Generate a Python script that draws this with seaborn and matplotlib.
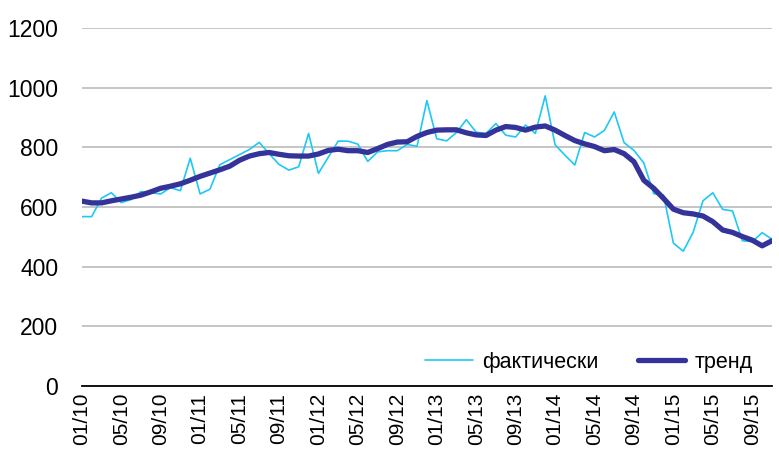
import numpy as np
import pandas as pd
import matplotlib
matplotlib.use("Agg")
import matplotlib.pyplot as plt
import seaborn as sns

# monthly values, 01/10 .. 11/15
actual = [568, 568, 630, 648, 615, 625, 652, 648, 644, 665, 655, 764,
          644, 660, 742, 759, 776, 793, 817, 779, 743, 724, 735, 847,
          713, 767, 821, 821, 811, 753, 785, 789, 789, 810, 804, 957,
          829, 822, 850, 893, 851, 847, 880, 841, 835, 875, 847, 973,
          809, 774, 741, 850, 835, 857, 919, 816, 790, 748, 645, 640,
          479, 452, 515, 621, 648, 592, 587, 487, 484, 514, 492]
trend = [620, 614, 614, 621, 627, 633, 640, 651, 663, 670, 678, 690,
         703, 714, 725, 737, 757, 771, 779, 783, 777, 772, 771, 771,
         778, 790, 794, 789, 789, 783, 796, 810, 818, 819, 837, 850,
         858, 859, 859, 849, 842, 840, 858, 870, 867, 858, 868, 872,
         858, 840, 823, 812, 803, 789, 793, 779, 752, 690, 663, 629,
         593, 581, 577, 570, 551, 523, 515, 501, 489, 470, 487]
months = pd.period_range("2010-01", periods=len(actual), freq="M")
month_labels = [m.strftime("%m/%y") for m in months]

df = pd.DataFrame({"idx": np.arange(len(actual)), "actual": actual, "trend": trend})

sns.set_style("white")
plt.rcParams["font.family"] = ["Liberation Sans", "DejaVu Sans"]
plt.rcParams["text.color"] = "black"
plt.rcParams["xtick.color"] = "black"
plt.rcParams["ytick.color"] = "black"

fig = plt.figure(figsize=(7.79, 4.69), dpi=100)
ax = fig.add_axes([0.105, 0.177, 0.886, 0.763])

sns.lineplot(data=df, x="idx", y="actual", ax=ax, color="#1ec8f5",
             linewidth=1.2, label="фактически")
sns.lineplot(data=df, x="idx", y="trend", ax=ax, color="#333399",
             linewidth=3.8, label="тренд")

ax.set_xlim(0, len(actual) - 1)
ax.set_ylim(0, 1200)
ax.set_yticks(range(0, 1201, 200))
ax.set_xticks(df["idx"][::4])
ax.set_xticklabels(month_labels[::4], rotation=90)
ax.set_xlabel("")
ax.set_ylabel("")

ax.yaxis.grid(True, color="#c0c0c0", linewidth=1.3)
ax.set_axisbelow(True)
for s in ["top", "right", "left"]:
    ax.spines[s].set_visible(False)
ax.spines["bottom"].set_color("black")
ax.spines["bottom"].set_linewidth(1.3)
ax.spines["bottom"].set_zorder(5)

ax.tick_params(axis="y", length=0, pad=17, labelsize=16.5, labelcolor="black")
ax.tick_params(axis="x", length=0, pad=5, labelsize=15, labelcolor="black")

ax.legend(loc="center", bbox_to_anchor=(0.735, 0.066), ncol=2, frameon=False,
          fontsize=15.5, handlelength=2.2, columnspacing=1.8, handletextpad=0.45)

fig.savefig("out.png", dpi=100)
